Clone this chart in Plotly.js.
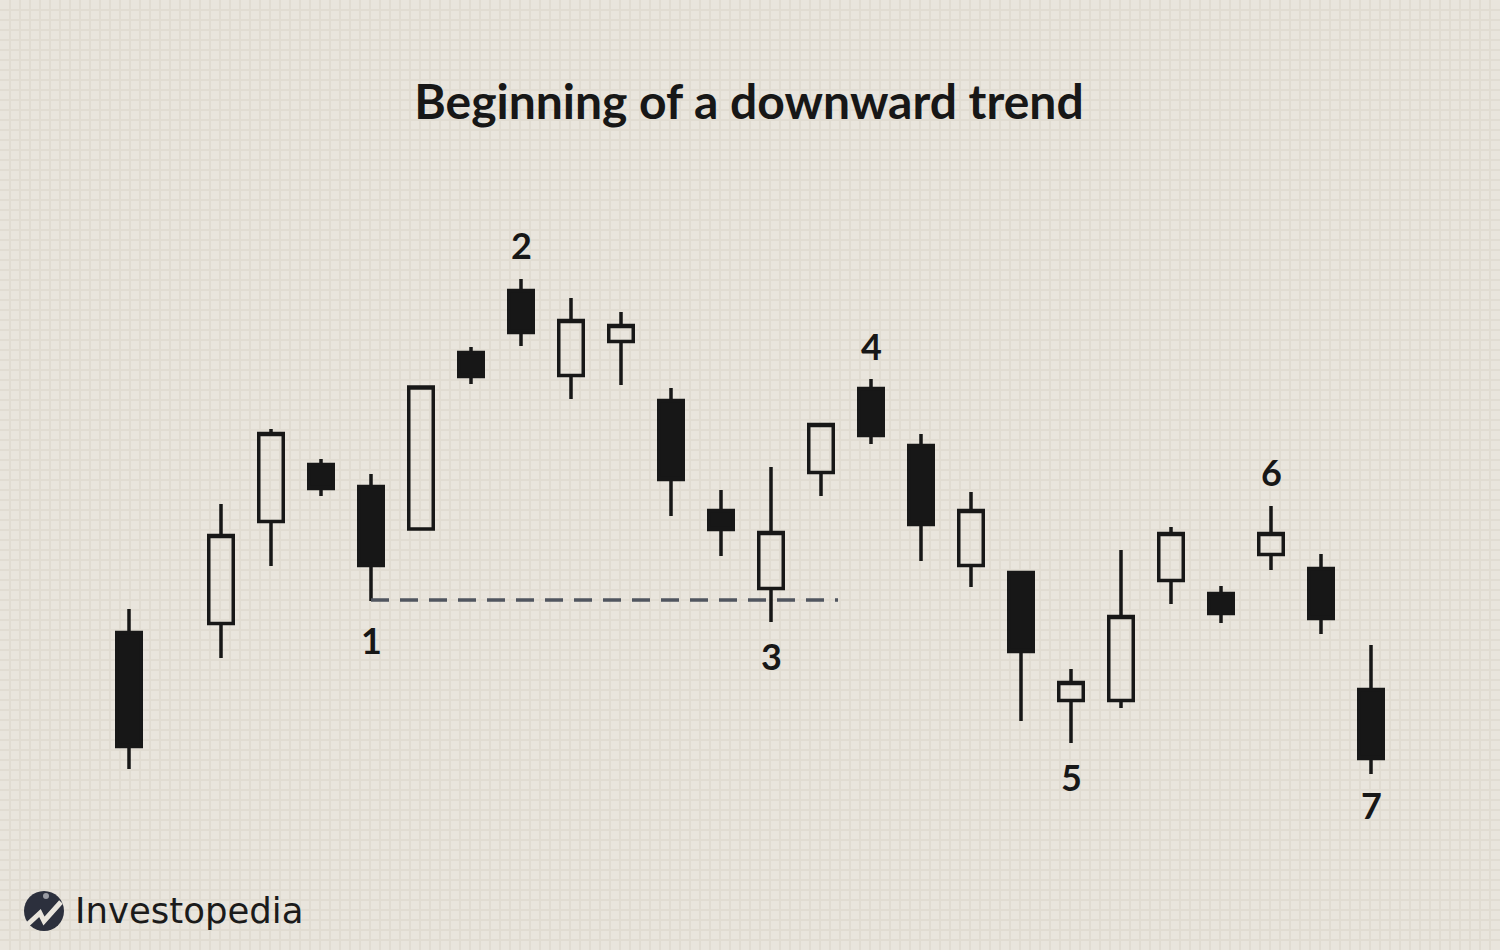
<!DOCTYPE html>
<html>
<head>
<meta charset="utf-8">
<script src="https://cdn.plot.ly/plotly-3.0.1.min.js"></script>
<style>html,body{margin:0;padding:0;background:#e9e5dd;}#chart{width:1500px;height:950px;}</style>
</head>
<body>
<div id="chart"></div>
<script>
// Session positions (x) and OHLC values
const sessions = [2.16, 4, 5, 6, 7, 8, 9, 10, 11, 12, 13, 14, 15, 16, 17, 18, 19, 20, 21, 22, 23, 24, 25, 26, 27];
const openP  = [16.75, 17.65, 27.85, 33.55, 31.35, 27.1, 44.75, 50.95, 42.45, 45.85, 39.95, 28.95, 21.15, 32.75, 41.15, 35.45, 23.45, 22.75, 9.95, 9.95, 21.95, 20.65, 24.55, 23.15, 11.05];
const highP  = [19.1, 29.6, 37.1, 34.1, 32.6, 41.3, 45.3, 52.1, 50.2, 48.8, 41.2, 31.0, 33.3, 37.55, 42.1, 36.6, 30.8, 22.75, 13.1, 25.0, 27.3, 21.4, 29.4, 24.6, 15.5];
const lowP   = [3.1, 14.2, 23.4, 30.4, 19.9, 27.1, 41.6, 45.4, 40.1, 41.5, 28.4, 24.4, 17.8, 30.4, 35.6, 23.9, 21.3, 7.9, 5.7, 9.2, 19.6, 17.7, 23.0, 16.6, 2.6];
const closeP = [5.35, 26.45, 36.65, 31.15, 23.45, 41.3, 42.35, 46.75, 47.95, 47.45, 32.05, 27.05, 26.75, 37.55, 36.45, 27.55, 28.95, 14.85, 11.75, 18.35, 26.65, 18.65, 26.65, 18.15, 4.15];

// Support level (dashed line)
const supportX = [7, 16.34];
const supportY = [20, 20];

// Point labels
const labelText = ['1', '2', '3', '4', '5', '6', '7'];
const labelX = [7, 10, 15, 17, 21, 25, 27];
const labelY = [16.0, 55.5, 14.4, 45.4, 2.3, 32.8, -0.5];

const titleText = 'Beginning of a downward trend';
const logoText = 'Investopedia';

const ink = '#171717';
const bg = '#e9e5dd';

const traces = [
  {
    type: 'scatter', mode: 'lines', x: supportX, y: supportY,
    line: {color: '#50555f', width: 3.5, dash: '18px,11px'}, hoverinfo: 'skip', showlegend: false
  },
  {
    type: 'candlestick', x: sessions, open: openP, high: highP, low: lowP, close: closeP,
    increasing: {line: {color: ink, width: 3.5}, fillcolor: 'rgba(0,0,0,0)'},
    decreasing: {line: {color: ink, width: 3.5}, fillcolor: ink},
    whiskerwidth: 0, hoverinfo: 'skip', showlegend: false
  }
];

const annotations = labelText.map((t, i) => ({
  x: labelX[i], y: labelY[i], xref: 'x', yref: 'y', text: t, showarrow: false,
  font: {family: 'Lato', size: 36, color: ink, weight: 700}
}));

annotations.push({
  x: 73 / 1500, y: 1 - 910 / 950, xref: 'paper', yref: 'paper', xanchor: 'left', yanchor: 'middle',
  text: logoText, showarrow: false, font: {family: 'DejaVu Sans', size: 35.5, color: '#1b1b1b'}
});

const px = v => v / 1500, py = v => 1 - v / 950;
const shapes = [
  {type: 'circle', xref: 'paper', yref: 'paper', x0: px(24), x1: px(64), y0: py(891), y1: py(931),
   fillcolor: '#2c303d', line: {width: 0}},
  {type: 'path', xref: 'paper', yref: 'paper',
   path: `M ${px(27)} ${py(925)} L ${px(40)} ${py(913)} L ${px(44)} ${py(921)} L ${px(61)} ${py(902)}`,
   line: {color: bg, width: 5}},
  {type: 'circle', xref: 'paper', yref: 'paper', x0: px(43), x1: px(49), y0: py(893), y1: py(899),
   fillcolor: '#9a9ca3', line: {width: 0}}
];

const layout = {
  width: 1500, height: 950,
  margin: {l: 0, r: 0, t: 0, b: 0, pad: 0},
  paper_bgcolor: bg, plot_bgcolor: bg,
  title: {text: titleText, x: 0.4993, xanchor: 'center', y: 1 - 102 / 950, yanchor: 'middle',
          font: {family: 'Lato', size: 48, color: ink, weight: 700}},
  xaxis: {range: [-0.42, 29.58], showgrid: true, gridcolor: '#e1dcd2', gridwidth: 1.5,
          tick0: 0.38, dtick: 0.2, showticklabels: false, ticks: '', zeroline: false,
          showline: false, rangeslider: {visible: false}, fixedrange: true},
  yaxis: {range: [-15, 80], showgrid: true, gridcolor: '#e1dcd2', gridwidth: 1.5,
          tick0: 0, dtick: 1, showticklabels: false, ticks: '', zeroline: false,
          showline: false, fixedrange: true},
  showlegend: false,
  annotations: annotations,
  shapes: shapes
};

Plotly.newPlot('chart', traces, layout, {displayModeBar: false, staticPlot: true});
</script>
</body>
</html>
